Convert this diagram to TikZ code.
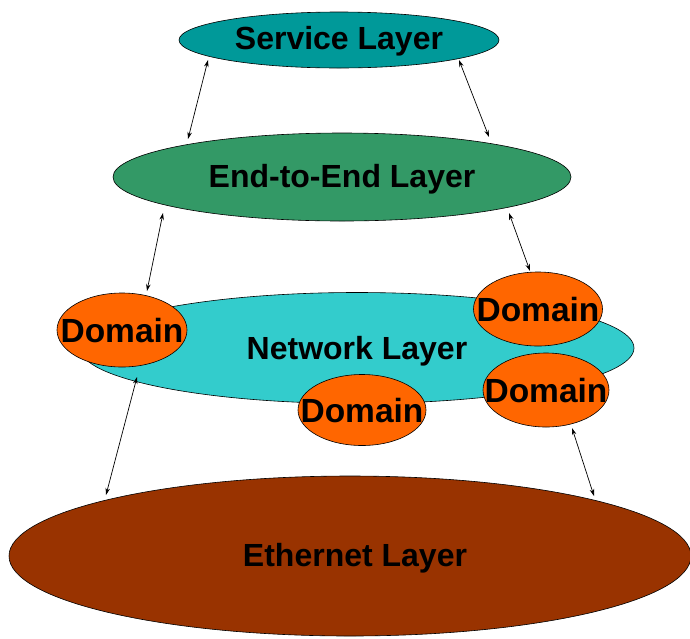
\documentclass[tikz,border=0pt]{standalone}
\usepackage{fontspec}
\setmainfont{Liberation Sans}
\usetikzlibrary{shapes.geometric,arrows.meta}
\definecolor{svccol}{HTML}{009999}
\definecolor{eecol}{HTML}{339966}
\definecolor{netcol}{HTML}{33CCCC}
\definecolor{domcol}{HTML}{FF6600}
\definecolor{ethcol}{HTML}{993300}
\begin{document}
\begin{tikzpicture}[x=1pt,y=-1pt,
  layer/.style={ellipse,draw=black,line width=0.6pt,inner sep=0pt},
  lbl/.style={font=\bfseries\fontsize{32}{32}\selectfont,inner sep=0pt},
  dlbl/.style={font=\bfseries\fontsize{33.5}{33.5}\selectfont,inner sep=0pt},
  conn/.style={{Stealth[length=7pt,width=4.5pt]}-{Stealth[length=7pt,width=4.5pt]},line width=0.7pt}]
\useasboundingbox (0,0) rectangle (690,638);
\node[layer,fill=ethcol,minimum width=682pt,minimum height=160pt] (eth) at (350,556) {};
\node[layer,fill=eecol,minimum width=458pt,minimum height=88pt] (ee) at (342,177) {};
\node[layer,fill=svccol,minimum width=320pt,minimum height=56pt] (svc) at (339,40) {};
\node[layer,fill=netcol,minimum width=554pt,minimum height=111pt] (net) at (357,348) {};
\node[layer,fill=domcol,minimum width=130pt,minimum height=74pt] (d1) at (122,330) {};
\node[layer,fill=domcol,minimum width=129pt,minimum height=74pt] (d2) at (538,309) {};
\node[layer,fill=domcol,minimum width=126pt,minimum height=74pt] (d3) at (546,390) {};
\node[layer,fill=domcol,minimum width=128pt,minimum height=71pt] (d4) at (362,410) {};
\node[lbl] (tsvc) at (339,41) {Service Layer};
\node[lbl] (tee) at (342,179) {End-to-End Layer};
\node[lbl] (tnet) at (357,351) {Network Layer};
\node[lbl] (teth) at (355,558) {Ethernet Layer};
\node[dlbl] (td1) at (122,331) {Domain};
\node[dlbl] (td2) at (538,310) {Domain};
\node[dlbl] (td3) at (546,391) {Domain};
\node[dlbl] (td4) at (362,411) {Domain};
% connector end points on the borders
\coordinate (a1) at (208,60);  \coordinate (b1) at (188,139);
\coordinate (a2) at (459,60);  \coordinate (b2) at (489,137);
\coordinate (a3) at (163,213); \coordinate (b3) at (147,291);
\coordinate (a4) at (509,213); \coordinate (b4) at (530,271);
\coordinate (a5) at (137,377); \coordinate (b5) at (106,495);
\coordinate (a6) at (572,428); \coordinate (b6) at (594,496);
\draw[conn] (a1) -- (b1);
\draw[conn] (a2) -- (b2);
\draw[conn] (a3) -- (b3);
\draw[conn] (a4) -- (b4);
\draw[conn] (a5) -- (b5);
\draw[conn] (a6) -- (b6);
\end{tikzpicture}
\end{document}
